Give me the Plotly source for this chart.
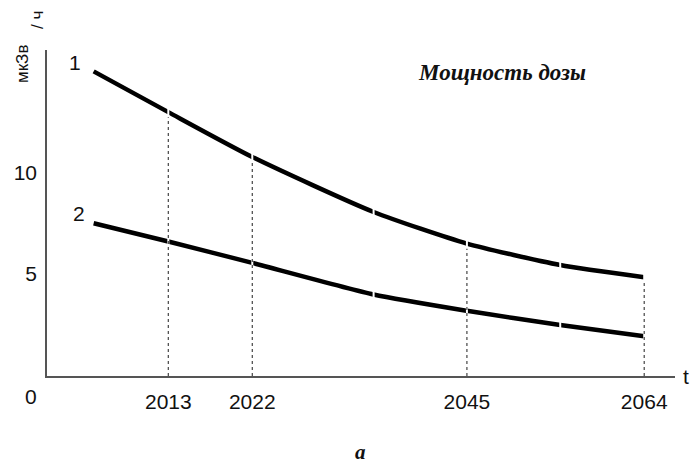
import plotly.graph_objects as go

years = [2005, 2013, 2022, 2035, 2045, 2055, 2064]
dose_1 = [14.95, 12.95, 10.75, 8.05, 6.5, 5.45, 4.85]
dose_2 = [7.5, 6.6, 5.55, 4.0, 3.2, 2.5, 1.95]
marked_years = [2013, 2022, 2045, 2064]
y_ticks = [5, 10]

fig = go.Figure()

for ys in (dose_1, dose_2):
    fig.add_trace(
        go.Scatter(
            x=years,
            y=ys,
            mode="lines",
            line=dict(color="black", width=4.5, shape="spline", smoothing=0.6),
            hoverinfo="skip",
        )
    )

# small white gaps where the curves cross the grid years
for i, yr in enumerate(years[1:], start=1):
    for ys in (dose_1, dose_2):
        fig.add_trace(
            go.Scatter(
                x=[yr, yr],
                y=[ys[i] - 0.35, ys[i] + 0.35],
                mode="lines",
                line=dict(color="white", width=2),
                hoverinfo="skip",
            )
        )

# dotted drop lines
for yr in marked_years:
    top = dose_1[years.index(yr)]
    fig.add_trace(
        go.Scatter(
            x=[yr, yr],
            y=[0, top - 0.25],
            mode="lines",
            line=dict(color="#444", width=1.2, dash="dot"),
            hoverinfo="skip",
        )
    )

label_font = dict(family="Liberation Sans, Arial", size=21, color="#111")
serif_bi = dict(family="Liberation Serif, Times New Roman", size=23, color="#111")
unit_font = dict(family="Liberation Sans, Arial", size=17, color="#111")

# positions in pixels from the top-left corner, converted below
annotations = [
    dict(text="1", x=75, y=62, font=label_font),
    dict(text="2", x=79, y=213, font=label_font),
    dict(text="0", x=31, y=396, font=label_font),
    dict(text="t", x=686, y=376, font=label_font),
    dict(text="<b><i>Мощность дозы</i></b>", x=502, y=72, font=serif_bi),
    dict(text="<b><i>a</i></b>", x=360, y=452, font=dict(serif_bi, size=21)),
    dict(text="мкЗв", x=23, y=64, textangle=-90, font=unit_font),
    dict(text="/ ч", x=37, y=20, textangle=-90, font=unit_font),
]
W, H = 693, 467
L, R, T, B = 47, 18, 50, 91
for a in annotations:
    a["xref"] = "paper"
    a["yref"] = "paper"
    a["x"] = (a["x"] - L) / (W - L - R)
    a["y"] = (H - B - a["y"]) / (H - T - B)
    a["xanchor"] = "center"
    a["yanchor"] = "middle"
    a["showarrow"] = False

fig.update_layout(
    width=W,
    height=H,
    margin=dict(l=L, r=R, t=T, b=B, autoexpand=False),
    paper_bgcolor="white",
    plot_bgcolor="white",
    showlegend=False,
    annotations=annotations,
    font=label_font,
)

fig.update_xaxes(
    range=[2000, 2067.3],
    tickvals=marked_years,
    ticktext=[str(y) for y in marked_years],
    showgrid=False,
    zeroline=False,
    showline=True,
    linecolor="#555",
    linewidth=1.5,
    ticks="",
    ticklabelstandoff=6,
    tickfont=label_font,
    automargin=False,
)
fig.update_yaxes(
    range=[0, 16],
    tickvals=y_ticks,
    showgrid=False,
    zeroline=False,
    showline=True,
    linecolor="#555",
    linewidth=1.5,
    ticks="",
    ticklabelstandoff=4,
    tickfont=label_font,
    automargin=False,
)

fig.write_html(
    "out.html",
    config={"displayModeBar": False},
    post_script="document.body.style.margin='0';",
)
